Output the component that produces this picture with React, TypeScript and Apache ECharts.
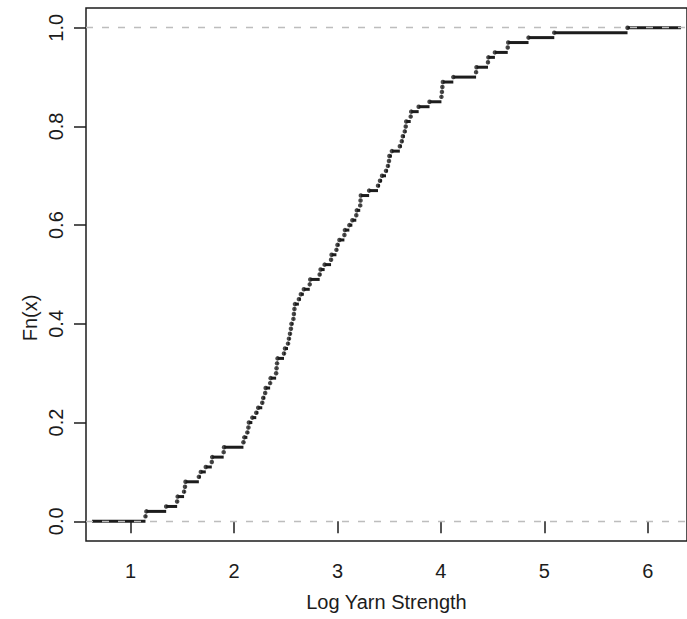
import React, { useEffect, useRef } from "react";
import * as echarts from "echarts";

const JUMPS = [
  1.144, 1.153, 1.344, 1.45, 1.455, 1.517, 1.526, 1.531, 1.66, 1.679,
  1.727, 1.785, 1.789, 1.9, 1.904, 2.091, 2.1, 2.129, 2.139, 2.144,
  2.177, 2.215, 2.234, 2.273, 2.282, 2.301, 2.306, 2.349, 2.354, 2.407,
  2.411, 2.416, 2.421, 2.483, 2.493, 2.522, 2.531, 2.541, 2.55, 2.555,
  2.574, 2.579, 2.584, 2.589, 2.627, 2.646, 2.675, 2.732, 2.737, 2.828,
  2.837, 2.876, 2.938, 2.943, 2.99, 3.0, 3.019, 3.067, 3.072, 3.115,
  3.144, 3.182, 3.187, 3.22, 3.223, 3.226, 3.306, 3.392, 3.411, 3.431,
  3.469, 3.488, 3.498, 3.502, 3.526, 3.603, 3.622, 3.632, 3.651, 3.66,
  3.665, 3.708, 3.713, 3.785, 3.89, 4.005, 4.01, 4.014, 4.019, 4.12,
  4.34, 4.344, 4.455, 4.459, 4.522, 4.646, 4.651, 4.847, 5.096, 5.804,
];
// Extent of the outer horizontal segments (data units)
const STEP_LEFT = 0.627;
const STEP_RIGHT = 6.321;
const X_TICKS = [1, 2, 3, 4, 5, 6];
const Y_TICKS = [0, 0.2, 0.4, 0.6, 0.8, 1.0];
const REF_LINES = [0, 1];
const X_LABEL = "Log Yarn Strength";
const Y_LABEL = "Fn(x)";

const FONT = "Liberation Sans, Arial, Helvetica, sans-serif";
const INK = "#1c1c1c";
const FS = 20;

export default function App() {
  const ref = useRef<HTMLDivElement>(null);
  useEffect(() => {
    document.body.style.margin = "0";
    if (!ref.current) return;
    const chart = echarts.init(ref.current, null, { renderer: "svg" });
    const n = JUMPS.length;
    const segments: number[][] = [];
    for (let i = 0; i <= n; i++) {
      const xs = i === 0 ? STEP_LEFT : JUMPS[i - 1];
      const xe = i === n ? STEP_RIGHT : JUMPS[i];
      segments.push([xs, xe, i / n]);
    }
    const points = JUMPS.map((x, i) => [x, (i + 1) / n]);

    chart.setOption({
      animation: false,
      textStyle: { fontFamily: FONT },
      grid: {
        left: 86,
        top: 8,
        right: -6,
        bottom: 78,
        show: true,
        borderColor: INK,
        borderWidth: 1.5,
        backgroundColor: "transparent",
      },
      graphic: [
        {
          type: "text",
          x: 30,
          y: 318,
          rotation: Math.PI / 2,
          style: {
            text: Y_LABEL,
            fontSize: FS,
            fontFamily: FONT,
            fill: INK,
            align: "center",
            verticalAlign: "middle",
          },
        },
      ],
      xAxis: {
        type: "value",
        min: 0.569,
        max: 6.379,
        name: X_LABEL,
        nameLocation: "middle",
        nameGap: 51,
        nameTextStyle: { fontSize: FS, color: INK, fontFamily: FONT },
        axisLine: { show: false },
        splitLine: { show: false },
        axisTick: {
          show: true,
          length: 12,
          customValues: X_TICKS,
          lineStyle: { color: INK, width: 1.5 },
        },
        axisLabel: {
          customValues: X_TICKS,
          fontSize: FS,
          color: INK,
          fontFamily: FONT,
          margin: 20,
        },
      },
      yAxis: {
        type: "value",
        min: -0.04,
        max: 1.04,
        axisLine: { show: false },
        splitLine: { show: false },
        axisTick: {
          show: true,
          length: 12,
          customValues: Y_TICKS,
          lineStyle: { color: INK, width: 1.5 },
        },
        axisLabel: {
          customValues: Y_TICKS,
          rotate: 90,
          fontSize: FS,
          color: INK,
          fontFamily: FONT,
          margin: 20,
          formatter: (v: number) => v.toFixed(1),
        },
      },
      series: [
        {
          type: "custom",
          z: 2,
          encode: { x: [0, 1], y: 2 },
          data: segments,
          renderItem: (params: any, api: any) => {
            const p1 = api.coord([api.value(0), api.value(2)]);
            const p2 = api.coord([api.value(1), api.value(2)]);
            return {
              type: "line",
              shape: { x1: p1[0], y1: p1[1], x2: p2[0], y2: p2[1] },
              style: { stroke: INK, lineWidth: 3 },
            };
          },
        },
        {
          type: "scatter",
          z: 3,
          symbol: "circle",
          symbolSize: 4.5,
          itemStyle: { color: INK },
          data: points,
          markLine: {
            silent: true,
            symbol: ["none", "none"],
            label: { show: false },
            z: 6,
            lineStyle: { color: "#bdbdbd", type: [7, 9], width: 1.3 },
            data: REF_LINES.map((v) => ({ yAxis: v })),
          },
        },
      ],
    });
    return () => chart.dispose();
  }, []);
  return <div ref={ref} style={{ width: 687, height: 619 }} />;
}
